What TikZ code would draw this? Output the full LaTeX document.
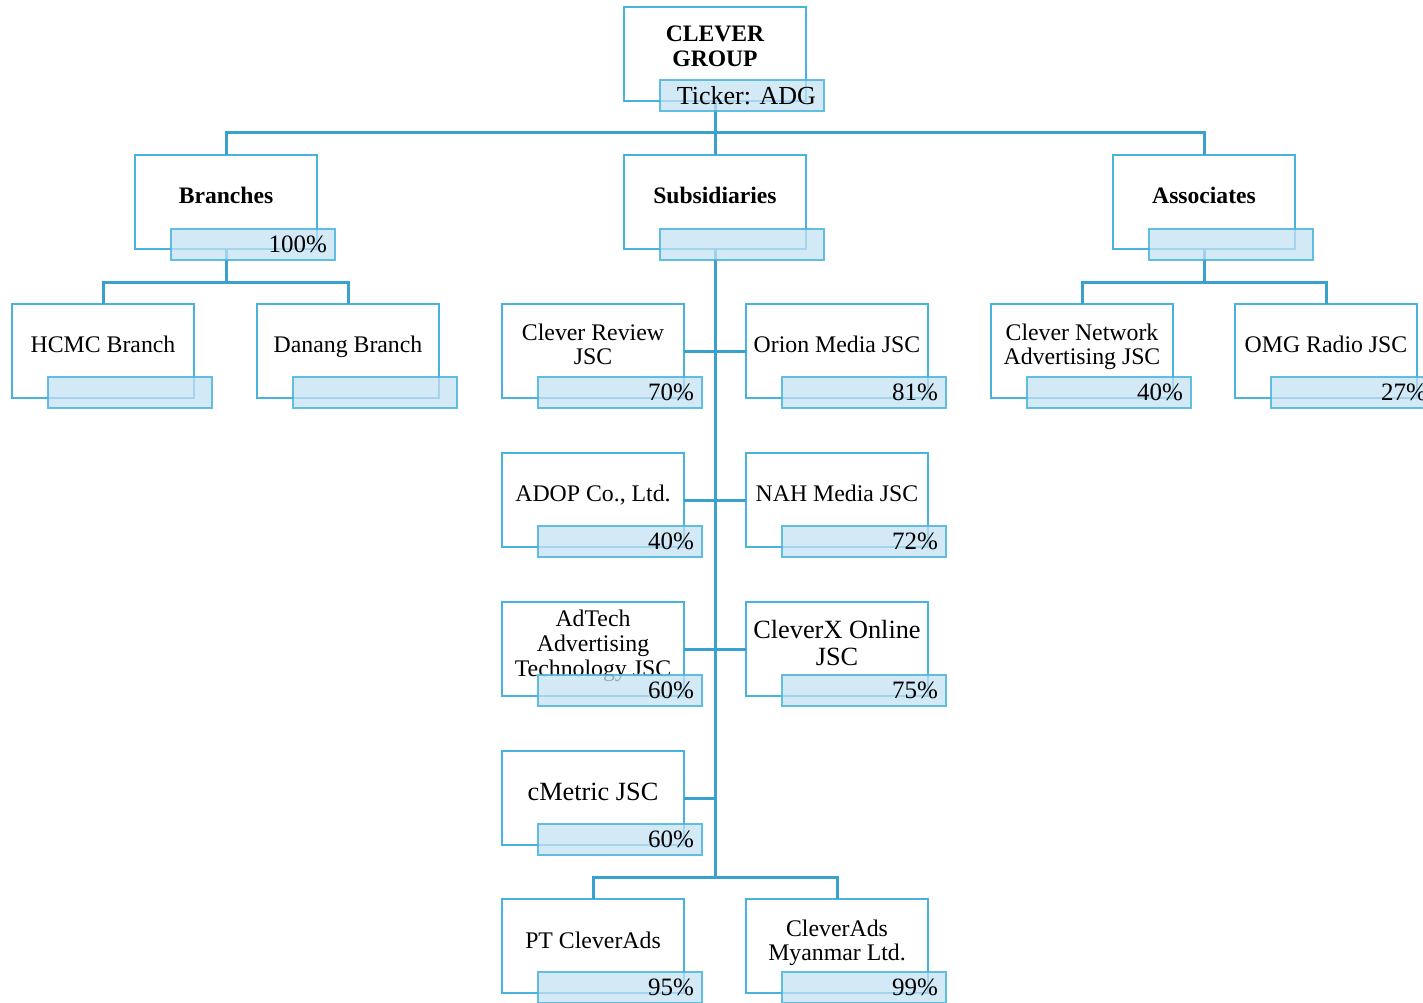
\documentclass[tikz,border=0pt]{standalone}
\usepackage{fontspec}
\setmainfont{Liberation Serif}
\begin{document}
\frenchspacing
\definecolor{boxblue}{RGB}{72,180,221}
\definecolor{connblue}{RGB}{58,160,206}
\definecolor{pctfill}{RGB}{196,225,242}
\tikzset{
  mainbox/.style={draw=boxblue, line width=2.8pt, minimum width=182pt, minimum height=94pt, anchor=north west, inner sep=0pt, outer sep=0pt},
  pctbox/.style={draw=boxblue, draw opacity=0.85, fill=pctfill, fill opacity=0.75, text opacity=1, line width=2.8pt,
    minimum width=164pt, minimum height=31pt, anchor=north west, inner xsep=8pt, inner ysep=0pt, outer sep=0pt,
    text width=148pt, align=right, font=\fontsize{25}{26}\selectfont},
  lbl/.style={align=center, inner sep=0pt, font=\fontsize{23.8}{24.8}\selectfont, execute at begin node=\strut, execute at end node=\strut},
  biglbl/.style={align=center, inner sep=0pt, font=\fontsize{26.3}{26.5}\selectfont, execute at begin node=\strut, execute at end node=\strut},
  boldlbl/.style={align=center, inner sep=0pt, font=\bfseries\fontsize{23.6}{25}\selectfont, execute at begin node=\strut, execute at end node=\strut},
  conn/.style={draw=connblue, line width=3pt},
}
\begin{tikzpicture}[x=1pt,y=-1pt]
\useasboundingbox (0,0) rectangle (1423,1003);
\clip (0,0) rectangle (1423,1003);
% main boxes
\node[mainbox] (top) at (624,7) {};
\node[mainbox] (branches) at (135,155) {};
\node[mainbox] (subs) at (624,155) {};
\node[mainbox] (assoc) at (1113,155) {};
\node[mainbox] (hcmc) at (12,304) {};
\node[mainbox] (danang) at (257,304) {};
\node[mainbox] (review) at (502,304) {};
\node[mainbox] (orion) at (746,304) {};
\node[mainbox] (network) at (991,304) {};
\node[mainbox] (omg) at (1235,304) {};
\node[mainbox] (adop) at (502,453) {};
\node[mainbox] (nah) at (746,453) {};
\node[mainbox] (adtech) at (502,602) {};
\node[mainbox] (cleverx) at (746,602) {};
\node[mainbox] (cmetric) at (502,751) {};
\node[mainbox] (ptc) at (502,899) {};
\node[mainbox] (myanmar) at (746,899) {};
% connectors
\coordinate (bus0) at (715,133);
\coordinate (bbus) at (226,282);
\coordinate (abus) at (1204,282);
\coordinate (sbus) at (715,877);
\draw[conn] (top.south) -- (bus0);
\draw[conn] (branches.north) |- (bus0) -| (assoc.north);
\draw[conn] (bus0) -- (subs.north);
\draw[conn] (branches.south) -- (bbus);
\draw[conn] (hcmc.north) |- (bbus) -| (danang.north);
\draw[conn] (assoc.south) -- (abus);
\draw[conn] (network.north) |- (abus) -| (omg.north);
\draw[conn] (subs.south) -- (sbus);
\draw[conn] (ptc.north) |- (sbus) -| (myanmar.north);
\draw[conn] (review.east) -- (orion.west);
\draw[conn] (adop.east) -- (nah.west);
\draw[conn] (adtech.east) -- (cleverx.west);
\draw[conn] (cmetric.east) -- (cmetric.east -| sbus);
% labels
\node[boldlbl] (ltop) at (715,50) {CLEVER\\GROUP};
\node[boldlbl] (lbranches) at (226,199) {Branches};
\node[boldlbl] (lsubs) at (715,199) {Subsidiaries};
\node[boldlbl] (lassoc) at (1204,199) {Associates};
\node[lbl] (lhcmc) at (103,348) {HCMC Branch};
\node[lbl] (ldanang) at (348,348) {Danang Branch};
\node[lbl] (lreview) at (593,348) {Clever Review\\JSC};
\node[lbl] (lorion) at (837,348) {Orion Media JSC};
\node[lbl] (lnetwork) at (1082,348) {Clever Network\\Advertising JSC};
\node[lbl] (lomg) at (1326,348) {OMG Radio JSC};
\node[lbl] (ladop) at (593,497) {ADOP Co., Ltd.};
\node[lbl] (lnah) at (837,497) {NAH Media JSC};
\node[lbl] (ladtech) at (593,647) {AdTech\\Advertising\\Technology JSC};
\node[biglbl] (lcleverx) at (837,647) {CleverX Online\\JSC};
\node[biglbl] (lcmetric) at (593,795) {cMetric JSC};
\node[lbl] (lptc) at (593,944) {PT CleverAds};
\node[lbl] (lmyanmar) at (837,944) {CleverAds\\Myanmar Ltd.};
% percentage boxes
\node[pctbox, font=\fontsize{26}{26}\selectfont] (ptop) at (660,80) {Ticker: ADG};
\node[pctbox] (pbranches) at (171,229) {100\%};
\node[pctbox] (psubs) at (660,229) {};
\node[pctbox] (passoc) at (1149,229) {};
\node[pctbox] (phcmc) at (48,377) {};
\node[pctbox] (pdanang) at (293,377) {};
\node[pctbox] (preview) at (538,377) {70\%};
\node[pctbox] (porion) at (782,377) {81\%};
\node[pctbox] (pnetwork) at (1027,377) {40\%};
\node[pctbox] (pomg) at (1271,377) {27\%};
\node[pctbox] (padop) at (538,526) {40\%};
\node[pctbox] (pnah) at (782,526) {72\%};
\node[pctbox] (padtech) at (538,675) {60\%};
\node[pctbox] (pcleverx) at (782,675) {75\%};
\node[pctbox] (pcmetric) at (538,824) {60\%};
\node[pctbox] (pptc) at (538,972) {95\%};
\node[pctbox] (pmyanmar) at (782,972) {99\%};
\end{tikzpicture}
\end{document}
